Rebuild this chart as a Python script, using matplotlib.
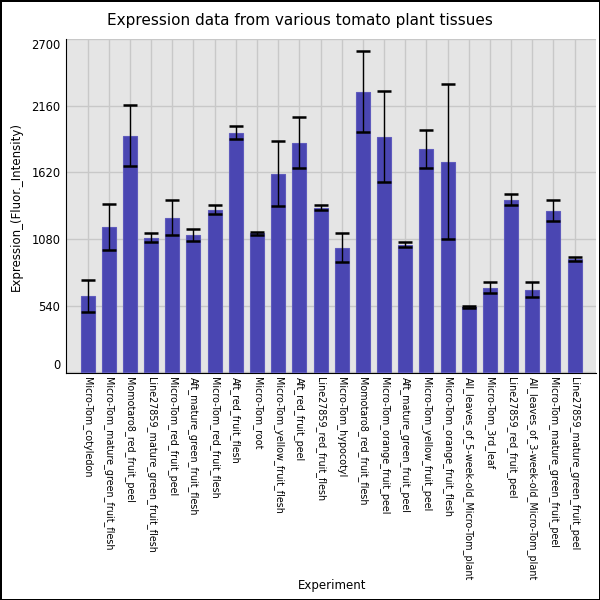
import matplotlib
matplotlib.use("Agg")
import matplotlib.pyplot as plt
import numpy as np

categories = [
    "Micro-Tom_cotyledon",
    "Micro-Tom_mature_green_fruit_flesh",
    "Momotaro8_red_fruit_peel",
    "Line27859_mature_green_fruit_flesh",
    "Micro-Tom_red_fruit_peel",
    "Aft_mature_green_fruit_flesh",
    "Micro-Tom_red_fruit_flesh",
    "Aft_red_fruit_flesh",
    "Micro-Tom_root",
    "Micro-Tom_yellow_fruit_flesh",
    "Aft_red_fruit_peel",
    "Line27859_red_fruit_flesh",
    "Micro-Tom_hypocotyl",
    "Momotaro8_red_fruit_flesh",
    "Micro-Tom_orange_fruit_peel",
    "Aft_mature_green_fruit_peel",
    "Micro-Tom_yellow_fruit_peel",
    "Micro-Tom_orange_fruit_flesh",
    "All_leaves_of_5-week-old_Micro-Tom_plant",
    "Micro-Tom_3rd_leaf",
    "Line27859_red_fruit_peel",
    "All_leaves_of_3-week-old_Micro-Tom_plant",
    "Micro-Tom_mature_green_fruit_peel",
    "Line27859_mature_green_fruit_peel",
]
values = [621, 1180, 1917, 1091, 1253, 1115, 1318, 1941, 1126, 1609, 1860,
          1334, 1010, 2273, 1909, 1034, 1812, 1706, 527, 686, 1399, 670, 1310, 921]
errors = [130, 186, 247, 38, 145, 49, 35, 50, 14, 265, 205,
          23, 117, 328, 366, 22, 154, 626, 10, 42, 47, 63, 82, 16]
yticks = [0, 540, 1080, 1620, 2160, 2700]

fig = plt.figure(figsize=(6, 6), dpi=100)
fig.patch.set_facecolor("white")
fig.patch.set_edgecolor("black")
fig.patch.set_linewidth(2)

ax = fig.add_axes([0.11, 0.378, 0.883, 0.557])
ax.set_facecolor("#e5e5e5")
x = np.arange(len(categories))
ax.bar(x, values, width=0.66, color="#4a46b2", edgecolor="#5f5bbd", linewidth=0.8, zorder=3)
ax.errorbar(x, values, yerr=errors, fmt="none", ecolor="black", elinewidth=1.0,
            capsize=4.7, capthick=1.8, zorder=4)

ax.set_xlim(-1.02, len(categories))
ax.set_ylim(-8, 2700)
ax.set_yticks(yticks)
ax.set_yticklabels([str(v) for v in yticks], fontsize=8.3)
labels = ax.get_yticklabels()
labels[0].set_va("bottom")
labels[-1].set_va("top")
ax.set_xticks(x)
ax.set_xticklabels(categories, rotation=270, fontsize=6.9, va="top", ha="center")
ax.tick_params(axis="both", length=0, pad=4)
ax.tick_params(axis="x", pad=3)
ax.grid(True, color="#c8c8c8", linewidth=1.0, zorder=0)
ax.set_axisbelow(True)
for s in ["top", "right"]:
    ax.spines[s].set_visible(False)
ax.spines["left"].set_color("black")
ax.spines["bottom"].set_color("black")

ax.set_ylabel("Expression_(Fluor._Intensity)", fontsize=8.5, labelpad=6)
fig.text(0.553, 0.025, "Experiment", ha="center", va="center", fontsize=8.5)
fig.text(0.5, 0.965, "Expression data from various tomato plant tissues",
         ha="center", va="center", fontsize=11)

fig.savefig("out.png", dpi=100)
